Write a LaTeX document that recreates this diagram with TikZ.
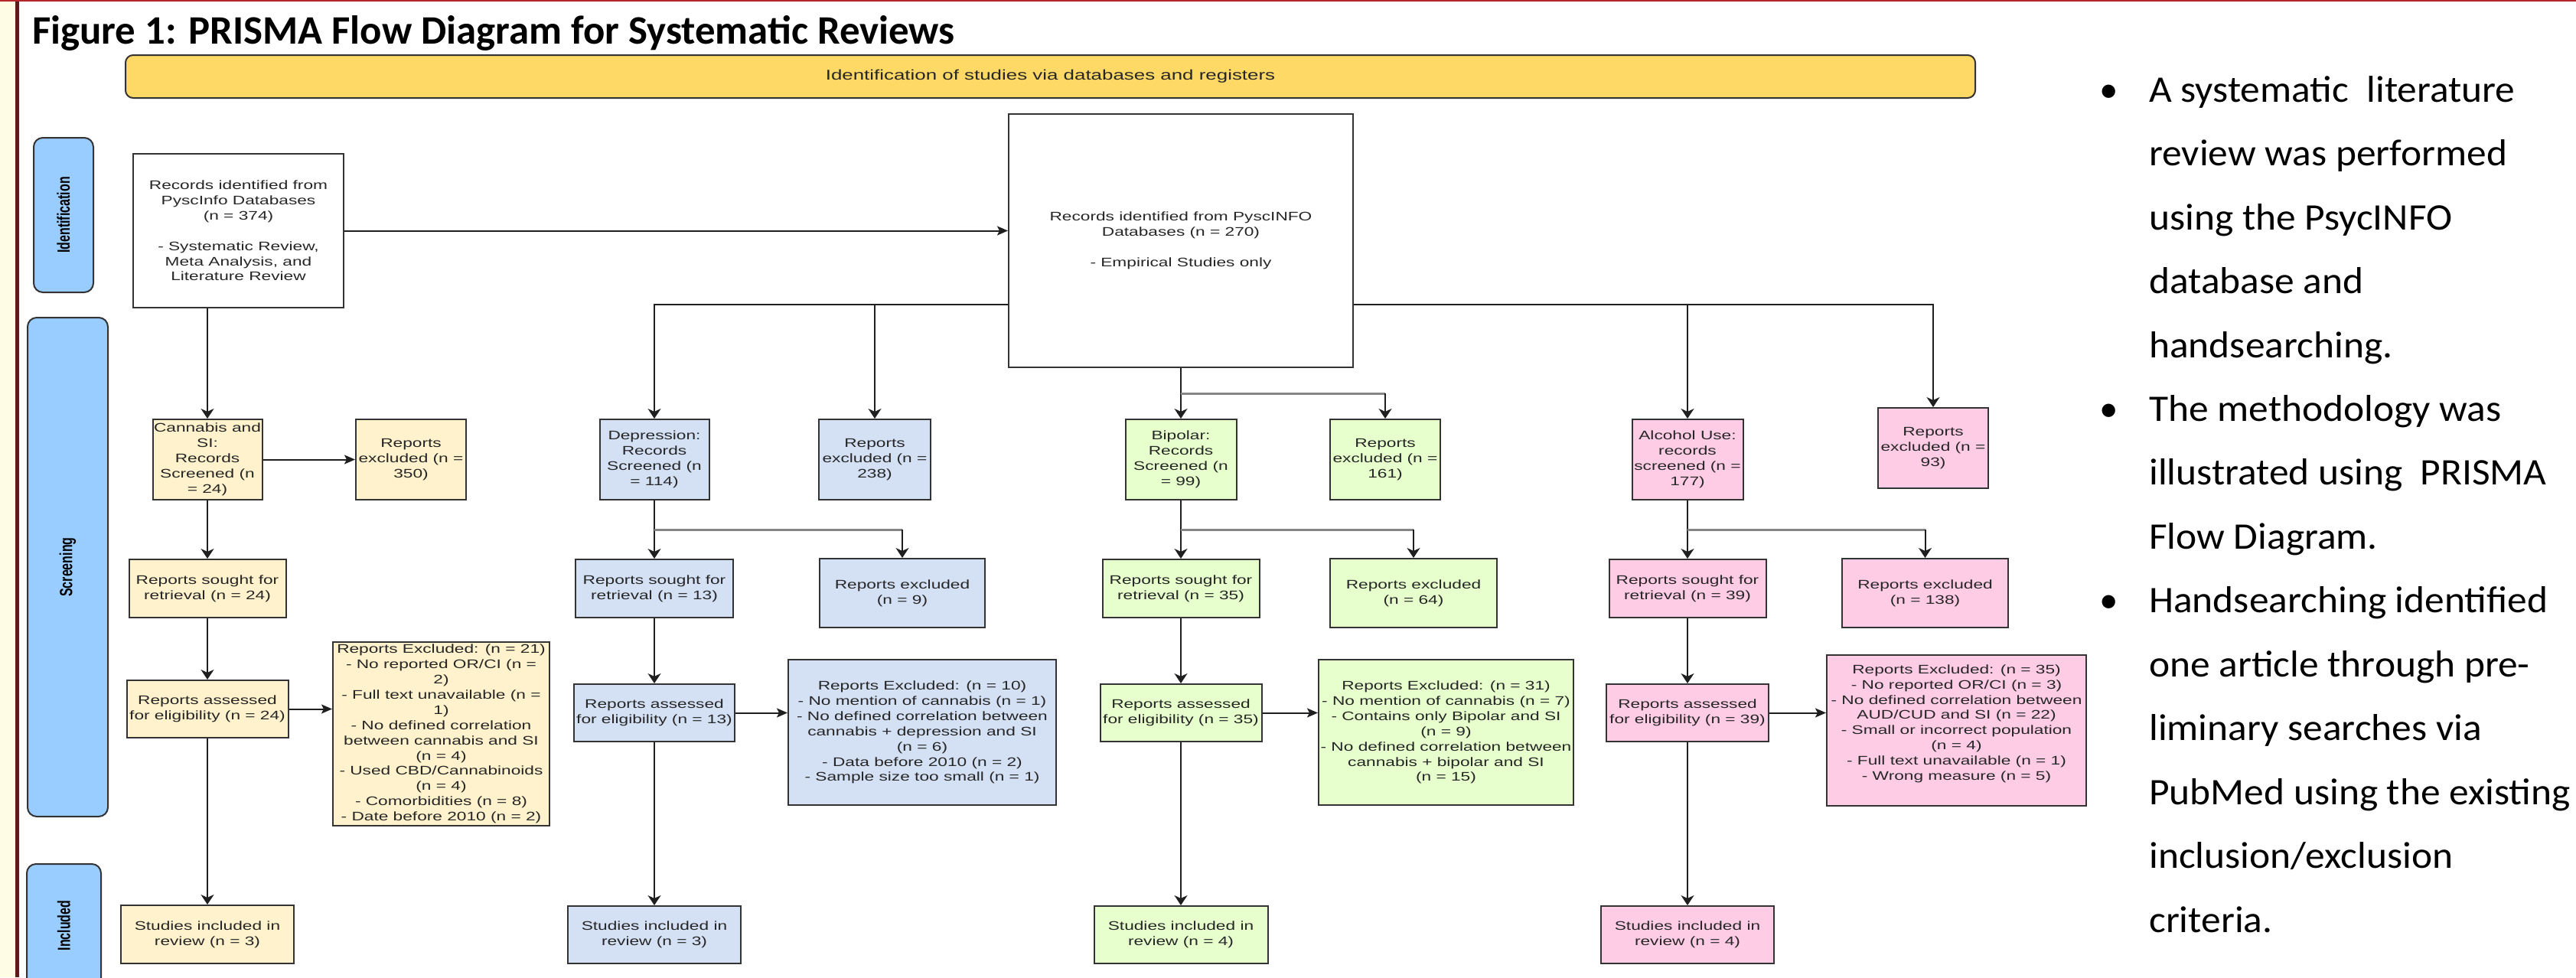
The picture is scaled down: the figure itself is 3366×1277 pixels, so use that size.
\documentclass[tikz,border=0pt]{standalone}
\usepackage{fontspec}
\usepackage{graphicx}
\setmainfont{Liberation Sans}
\newfontfamily\diagff[FakeStretch=1.40]{Liberation Sans}
\newfontfamily\calff{Carlito}
\newfontfamily\calstff[FakeStretch=1.05]{Carlito}
\usetikzlibrary{arrows.meta,calc}

\definecolor{cy}{HTML}{FFF2CC}
\definecolor{cb}{HTML}{D4E1F5}
\definecolor{cg}{HTML}{E6FFCC}
\definecolor{cp}{HTML}{FFCCE6}
\definecolor{bannerc}{HTML}{FFD966}
\definecolor{phasec}{HTML}{99CCFF}
\definecolor{bd}{HTML}{333333}
\definecolor{ln}{HTML}{1F1F1F}
\definecolor{txt}{HTML}{262626}
\definecolor{creamc}{HTML}{FFFCE6}
\definecolor{maroonc}{HTML}{5C1A1B}
\definecolor{topred}{HTML}{B5262B}
\definecolor{splitc}{HTML}{858585}

\newcommand{\dtext}{\diagff\fontsize{16.2pt}{19.9pt}\selectfont\color{txt}}
\newcommand{\phasetext}[1]{\rotatebox{90}{\scalebox{1}[1.44]{\fontsize{16pt}{19pt}\selectfont\bfseries #1}}}

\tikzset{
  box/.style={draw=bd, line width=2pt, inner sep=0pt, align=center, font=\dtext},
  conn/.style={draw=ln, line width=2pt},
  arrd/.style={conn, -{Stealth[length=13pt,width=17pt,inset=4pt]}},
  arrr/.style={conn, -{Stealth[length=14pt,width=12pt,inset=3pt]}},
  splitln/.style={draw=splitc, line width=3pt},
  phase/.style={draw=bd, fill=phasec, line width=2pt, rounded corners=12pt, inner sep=0pt},
  bullettext/.style={anchor=north west, inner sep=0pt, align=left,
    font=\calstff\fontsize{49pt}{83.46pt}\selectfont},
  bulletdot/.style={anchor=base, inner sep=0pt, font=\calff\fontsize{49pt}{60pt}\selectfont},
}

\begin{document}
\begin{tikzpicture}[x=1pt,y=-1pt]
\useasboundingbox (0,0) rectangle (3366,1277);
\clip (0,0) rectangle (3366,1277);
\fill[white] (0,0) rectangle (3366,1277);

% frame
\fill[creamc] (0,0) rectangle (20,1277);
\fill[maroonc] (20,0) rectangle (25,1277);
\fill[topred] (0,0) rectangle (3366,2);

% title
\node[anchor=base west, inner sep=0pt, font=\calff\bfseries\fontsize{52.8pt}{60pt}\selectfont] (title) at (42,57)
  {Figure 1: PRISMA Flow Diagram for Systematic Reviews};

% banner
\node[draw=bd, fill=bannerc, line width=2pt, rounded corners=10pt, minimum width=2417pt, minimum height=56pt,
  inner sep=0pt, font=\diagff\fontsize{18.5pt}{22pt}\selectfont\color{txt}] (ban) at (1372.5,100)
  {Identification of studies via databases and registers};

% phase labels
\node[phase, minimum width=78pt, minimum height=202pt] (ph1) at (83,281) {\phasetext{Identification}};
\node[phase, minimum width=105pt, minimum height=652pt] (ph2) at (88.5,741) {\phasetext{Screening}};
\node[phase, minimum width=97pt, minimum height=161pt] (ph3) at (83.5,1209.5) {\phasetext{Included}};

% identification boxes
\node[box, fill=white, minimum width=275pt, minimum height=201pt] (A) at (311.5,301.5)
  {Records identified from\\PyscInfo Databases\\(n = 374)\\ \\- Systematic Review,\\Meta Analysis, and\\Literature Review};
\node[box, fill=white, minimum width=450pt, minimum height=331pt] (B) at (1543,314.5)
  {Records identified from PyscINFO\\Databases (n = 270)\\ \\- Empirical Studies only};

% cannabis column
\node[box, fill=cy, minimum width=143pt, minimum height=105pt] (C1) at (271,600.5)
  {Cannabis and\\SI:\\Records\\Screened (n\\= 24)};
\node[box, fill=cy, minimum width=144pt, minimum height=105pt] (C1x) at (537,600.5)
  {Reports\\excluded (n =\\350)};
\node[box, fill=cy, minimum width=205pt, minimum height=76pt] (C2) at (271,769)
  {Reports sought for\\retrieval (n = 24)};
\node[box, fill=cy, minimum width=211pt, minimum height=75pt] (C3) at (271,926.5)
  {Reports assessed\\for eligibility (n = 24)};
\node[box, fill=cy, minimum width=283pt, minimum height=240pt] (C3x) at (576.5,959)
  {Reports Excluded: (n = 21)\\- No reported OR/CI (n =\\2)\\- Full text unavailable (n =\\1)\\- No defined correlation\\between cannabis and SI\\(n = 4)\\- Used CBD/Cannabinoids\\(n = 4)\\- Comorbidities (n = 8)\\- Date before 2010 (n = 2)};
\node[box, fill=cy, minimum width=226pt, minimum height=76pt] (C4) at (271,1221)
  {Studies included in\\review (n = 3)};

% depression column
\node[box, fill=cb, minimum width=143pt, minimum height=105pt] (D1) at (855,600.5)
  {Depression:\\Records\\Screened (n\\= 114)};
\node[box, fill=cb, minimum width=146pt, minimum height=105pt] (D1x) at (1143,600.5)
  {Reports\\excluded (n =\\238)};
\node[box, fill=cb, minimum width=206pt, minimum height=76pt] (D2) at (855,769)
  {Reports sought for\\retrieval (n = 13)};
\node[box, fill=cb, minimum width=216pt, minimum height=90pt] (D2x) at (1179,775)
  {Reports excluded\\(n = 9)};
\node[box, fill=cb, minimum width=210pt, minimum height=75pt] (D3) at (855,931.5)
  {Reports assessed\\for eligibility (n = 13)};
\node[box, fill=cb, minimum width=350pt, minimum height=190pt] (D3x) at (1205,957)
  {Reports Excluded: (n = 10)\\- No mention of cannabis (n = 1)\\- No defined correlation between\\cannabis + depression and SI\\(n = 6)\\- Data before 2010 (n = 2)\\- Sample size too small (n = 1)};
\node[box, fill=cb, minimum width=226pt, minimum height=75pt] (D4) at (855,1221.5)
  {Studies included in\\review (n = 3)};

% bipolar column
\node[box, fill=cg, minimum width=145pt, minimum height=105pt] (Bi1) at (1543,600.5)
  {Bipolar:\\Records\\Screened (n\\= 99)};
\node[box, fill=cg, minimum width=144pt, minimum height=105pt] (Bi1x) at (1810,600.5)
  {Reports\\excluded (n =\\161)};
\node[box, fill=cg, minimum width=205pt, minimum height=76pt] (Bi2) at (1543,769)
  {Reports sought for\\retrieval (n = 35)};
\node[box, fill=cg, minimum width=218pt, minimum height=90pt] (Bi2x) at (1847,775)
  {Reports excluded\\(n = 64)};
\node[box, fill=cg, minimum width=211pt, minimum height=75pt] (Bi3) at (1543,931.5)
  {Reports assessed\\for eligibility (n = 35)};
\node[box, fill=cg, minimum width=333pt, minimum height=190pt] (Bi3x) at (1889.5,957)
  {Reports Excluded: (n = 31)\\- No mention of cannabis (n = 7)\\- Contains only Bipolar and SI\\(n = 9)\\- No defined correlation between\\cannabis + bipolar and SI\\(n = 15)};
\node[box, fill=cg, minimum width=227pt, minimum height=75pt] (Bi4) at (1543,1221.5)
  {Studies included in\\review (n = 4)};

% alcohol column
\node[box, fill=cp, minimum width=145pt, minimum height=105pt] (Al1) at (2205,600.5)
  {Alcohol Use:\\records\\screened (n =\\177)};
\node[box, fill=cp, minimum width=144pt, minimum height=105pt] (Al1x) at (2526,585.5)
  {Reports\\excluded (n =\\93)};
\node[box, fill=cp, minimum width=205pt, minimum height=76pt] (Al2) at (2205,769)
  {Reports sought for\\retrieval (n = 39)};
\node[box, fill=cp, minimum width=217pt, minimum height=90pt] (Al2x) at (2515.5,775)
  {Reports excluded\\(n = 138)};
\node[box, fill=cp, minimum width=212pt, minimum height=75pt] (Al3) at (2205,931.5)
  {Reports assessed\\for eligibility (n = 39)};
\node[box, fill=cp, minimum width=339pt, minimum height=197pt] (Al3x) at (2556.5,954)
  {Reports Excluded: (n = 35)\\- No reported OR/CI (n = 3)\\- No defined correlation between\\AUD/CUD and SI (n = 22)\\- Small or incorrect population\\(n = 4)\\- Full text unavailable (n = 1)\\- Wrong measure (n = 5)\\\mbox{}};
\node[box, fill=cp, minimum width=226pt, minimum height=75pt] (Al4) at (2205,1221.5)
  {Studies included in\\review (n = 4)};

% connectors: identification
\draw[arrr] (A.east) -- (A.east -| B.west);
\draw[arrd] (C1.north |- A.south) -- (C1.north);
\coordinate (hB) at (0,398);
\draw[arrd] (B.west |- hB) -| (D1.north);
\draw[arrd] (B.west |- hB) -| (D1x.north);
\draw[arrd] (B.east |- hB) -| (Al1.north);
\draw[arrd] (B.east |- hB) -| (Al1x.north);
\draw[arrd] (B.south) -- (Bi1.north);
\coordinate (sB) at (0,514);
\draw[splitln] (B.south |- sB) -- (Bi1x.north |- sB);
\draw[arrd] (Bi1x.north |- sB) -- (Bi1x.north);

% cannabis connectors
\draw[arrr] (C1.east) -- (C1x.west);
\draw[arrd] (C1.south) -- (C2.north);
\draw[arrd] (C2.south) -- (C3.north);
\draw[arrr] (C3.east) -- (C3.east -| C3x.west);
\draw[arrd] (C3.south) -- (C4.north);

% split level
\coordinate (s2) at (0,692);

% depression connectors
\draw[arrd] (D1.south) -- (D2.north);
\draw[splitln] (D1.south |- s2) -- (D2x.north |- s2);
\draw[arrd] (D2x.north |- s2) -- (D2x.north);
\draw[arrd] (D2.south) -- (D3.north);
\draw[arrr] (D3.east) -- (D3.east -| D3x.west);
\draw[arrd] (D3.south) -- (D4.north);

% bipolar connectors
\draw[arrd] (Bi1.south) -- (Bi2.north);
\draw[splitln] (Bi1.south |- s2) -- (Bi2x.north |- s2);
\draw[arrd] (Bi2x.north |- s2) -- (Bi2x.north);
\draw[arrd] (Bi2.south) -- (Bi3.north);
\draw[arrr] (Bi3.east) -- (Bi3.east -| Bi3x.west);
\draw[arrd] (Bi3.south) -- (Bi4.north);

% alcohol connectors
\draw[arrd] (Al1.south) -- (Al2.north);
\draw[splitln] (Al1.south |- s2) -- (Al2x.north |- s2);
\draw[arrd] (Al2x.north |- s2) -- (Al2x.north);
\draw[arrd] (Al2.south) -- (Al3.north);
\draw[arrr] (Al3.east) -- (Al3.east -| Al3x.west);
\draw[arrd] (Al3.south) -- (Al4.north);

% bullet text
\node[bulletdot] (b1) at (2756,133) {•};
\node[bullettext] (it1) at (2808,93)
  {\rule{0pt}{40pt}A systematic\ \ literature\\review was performed\\using the PsycINFO\\database and\\handsearching.};
\node[bulletdot] (b2) at (2756,550.3) {•};
\node[bullettext] (it2) at (2808,510.3)
  {\rule{0pt}{40pt}The methodology was\\illustrated using\ \ PRISMA\\Flow Diagram.};
\node[bulletdot] (b3) at (2756,800.7) {•};
\node[bullettext] (it3) at (2808,760.7)
  {\rule{0pt}{40pt}Handsearching identified\\one article through pre-\\liminary searches via\\PubMed using the existing\\inclusion/exclusion\\criteria.};
\end{tikzpicture}
\end{document}
